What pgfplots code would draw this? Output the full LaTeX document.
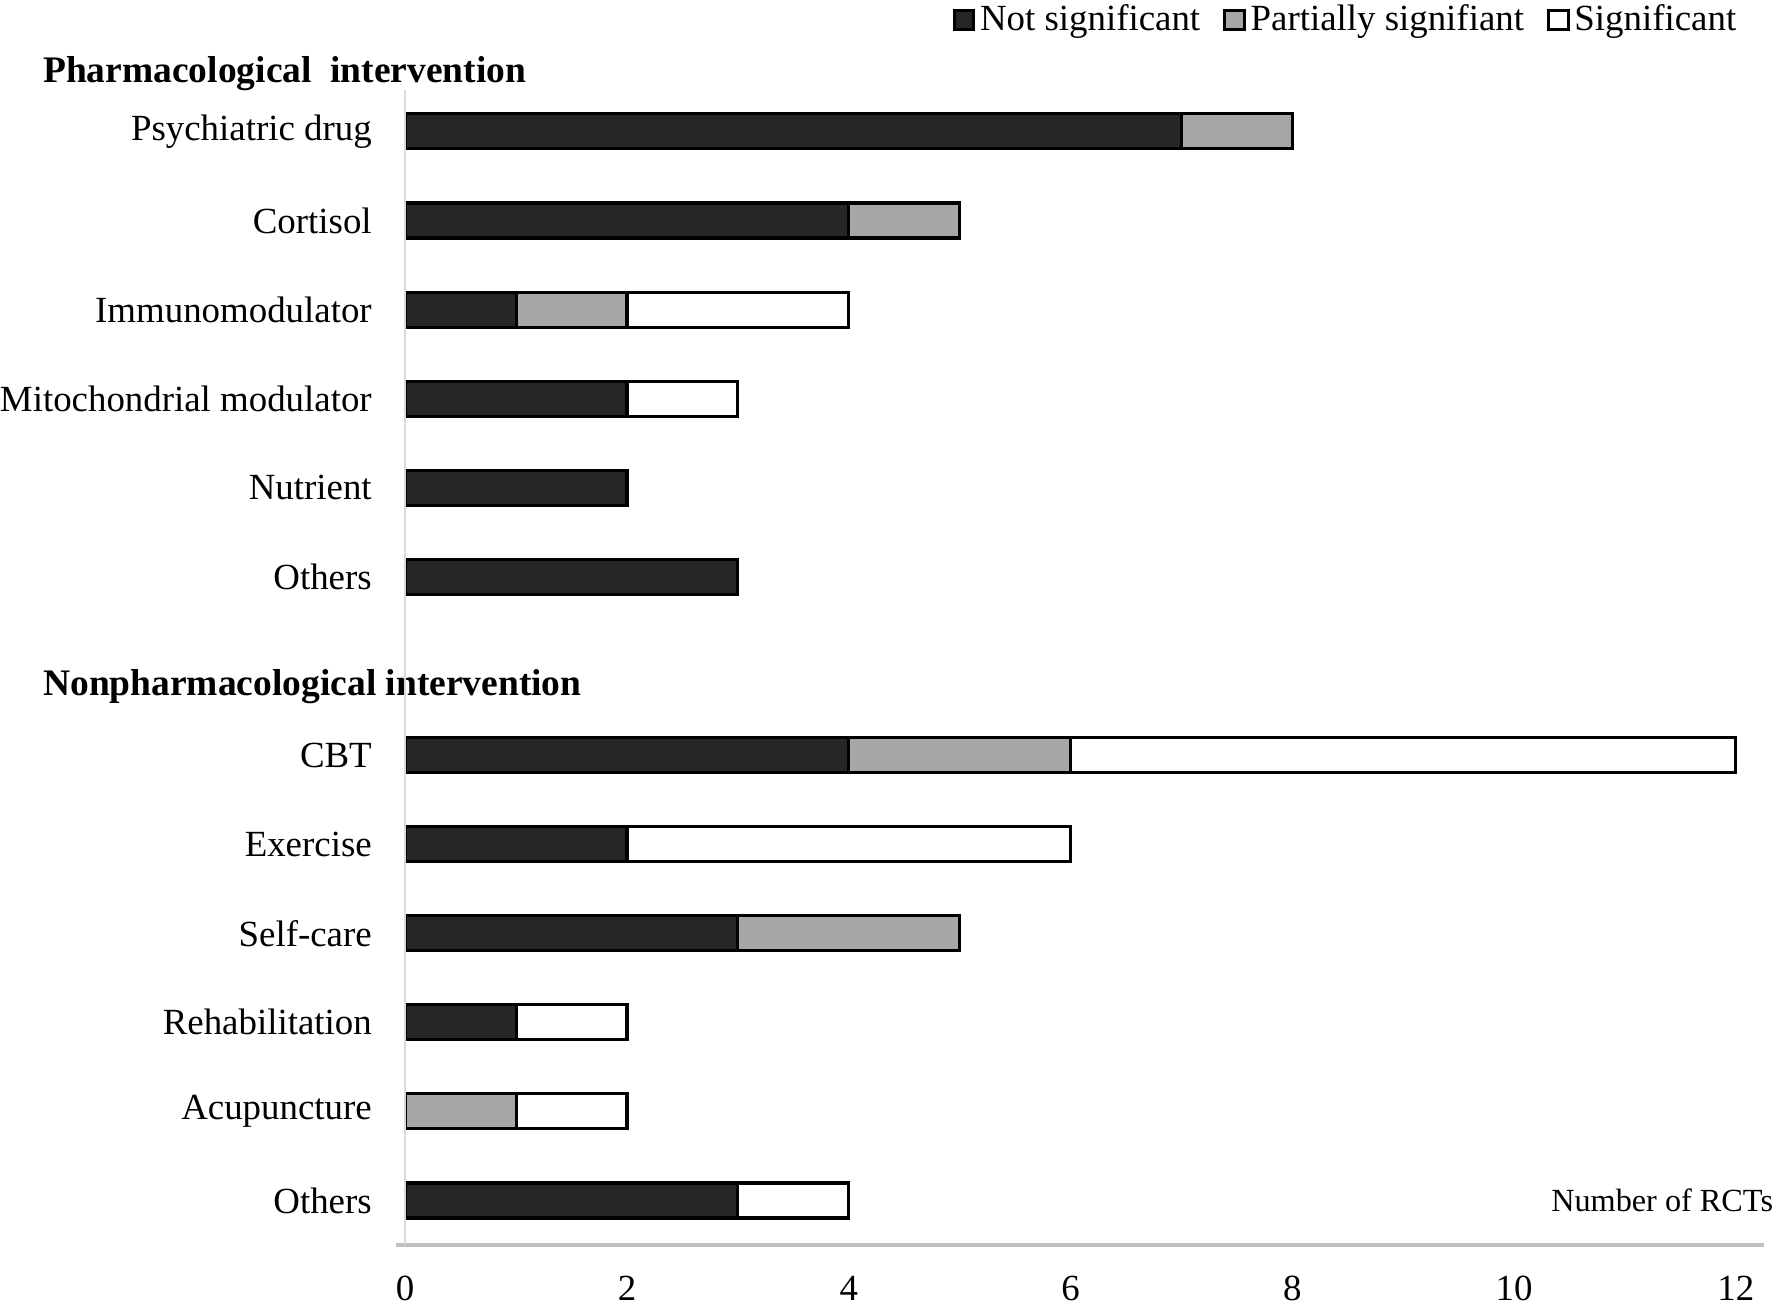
\documentclass[border=0pt]{standalone}
\usepackage{pgfplots}
\pgfplotsset{compat=1.18}
\usepackage{fontspec}
\setmainfont{Liberation Serif}
\definecolor{ns}{HTML}{262626}
\definecolor{ps}{HTML}{A6A6A6}
\definecolor{axl}{HTML}{D9D9D9}
\definecolor{axb}{HTML}{BFBFBF}
\begin{document}
\begin{tikzpicture}
\pgfplotsset{sq legend/.style={legend image code/.code={\draw[##1] (0pt,-3.2pt) rectangle (6.4pt,3.2pt);}}}
\begin{axis}[
 scale only axis, width=433.1pt, height=375.9pt,
 xbar stacked, bar width=11.4pt,
 xmin=0, xmax=12, ymin=0.506, ymax=13.47,
 axis line style={draw=none},
 major tick length=0pt,
 xtick={0,2,...,12},
 ytick={1,2,3,4,5,6,8,9,10,11,12,13},
 yticklabels={Others,Acupuncture,Rehabilitation,Self-care,Exercise,CBT,Others,Nutrient,Mitochondrial modulator,Immunomodulator,Cortisol,Psychiatric drug},
 tick label style={font=\fontsize{12}{14}\selectfont, inner sep=0pt},
 /pgf/number format/assume math mode=true,
 yticklabel style={xshift=-10.7pt},
 xticklabel style={inner ysep=3.5pt, yshift=-6.5pt},
 clip=false,
 legend style={draw=none, fill=none, inner sep=0pt, at={(1,1)}, anchor=south east, yshift=16pt, xshift=1.8pt,
   legend columns=-1, font=\fontsize{12}{14}\selectfont,
   nodes={inner sep=1.5pt},
   /tikz/every even column/.append style={column sep=6pt}},
]
\draw[color=axl, line width=0.8pt] (axis cs:0,0.506) -- (axis cs:0,13.47);
\draw[color=axb, line width=1.3pt] (axis cs:-0.08,0.506) -- (axis cs:12.25,0.506);
\addplot[fill=ns, draw=black, line width=1pt, sq legend] coordinates {(3,1) (0,2) (1,3) (3,4) (2,5) (4,6) (3,8) (2,9) (2,10) (1,11) (4,12) (7,13)};
\addplot[fill=ps, draw=black, line width=1pt, sq legend] coordinates {(0,1) (1,2) (0,3) (2,4) (0,5) (2,6) (0,8) (0,9) (0,10) (1,11) (1,12) (1,13)};
\addplot[fill=white, draw=black, line width=1pt, sq legend] coordinates {(1,1) (1,2) (1,3) (0,4) (4,5) (6,6) (0,8) (0,9) (1,10) (2,11) (0,12) (0,13)};
\legend{Not significant,Partially signifiant,Significant}
\node[anchor=west, inner sep=0pt, font=\bfseries\fontsize{12.2}{15}\selectfont] at ([xshift=-118pt]axis cs:0,13.65) {Pharmacological~ intervention};
\node[anchor=west, inner sep=0pt, font=\bfseries\fontsize{12.2}{15}\selectfont] at ([xshift=-118pt]axis cs:0,6.77) {Nonpharmacological intervention};
\node[anchor=east, inner sep=0pt, font=\fontsize{10.5}{12}\selectfont] at (axis cs:12.34,1) {Number of RCTs};
\end{axis}
\end{tikzpicture}
\end{document}
